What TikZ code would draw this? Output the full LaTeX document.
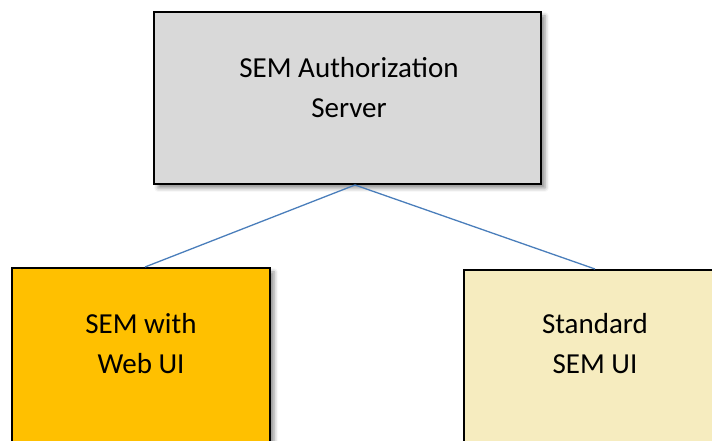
\documentclass[tikz,border=0pt]{standalone}
\usepackage{fontspec}
\setmainfont{Carlito}
\usetikzlibrary{shadows.blur}
\definecolor{srvgray}{HTML}{D9D9D9}
\definecolor{weborange}{HTML}{FFC000}
\definecolor{stdyellow}{HTML}{F6ECBF}
\definecolor{linkblue}{HTML}{4A7EBB}
\tikzset{
  box/.style={draw=black, line width=2pt, rectangle, inner sep=0pt,
    blur shadow={shadow xshift=4pt, shadow yshift=-4pt, shadow blur radius=4pt, shadow opacity=45}},
  lbl/.style={align=center, font=\fontsize{29}{40}\selectfont, inner sep=0pt},
  link/.style={draw=linkblue, line width=1.3pt}
}
\begin{document}
\begin{tikzpicture}[x=1pt,y=1pt]
\useasboundingbox (0,0) rectangle (712,441);
\clip (0,0) rectangle (712,441);
\node[box, fill=srvgray, minimum width=387pt, minimum height=172pt] (srv) at (347.5,343) {};
\node[lbl] (srvt) at ([xshift=1.5pt,yshift=-76.5pt]srv.north) {SEM Authorization\\Server};
\node[box, fill=weborange, minimum width=258pt, minimum height=200pt] (web) at (141,73) {};
\node[lbl] (webt) at ([yshift=-77pt]web.north) {SEM with\\Web UI};
\node[box, fill=stdyellow, minimum width=262pt, minimum height=200pt] (std) at (595,71) {};
\node[lbl] (stdt) at ([yshift=-75pt]std.north) {Standard\\SEM UI};
\coordinate (apex) at ([xshift=7.5pt]srv.south);
\coordinate (webtop) at ([xshift=4pt]web.north);
\draw[link] (apex) -- (webtop);
\draw[link] (apex) -- (std.north);
\end{tikzpicture}
\end{document}
